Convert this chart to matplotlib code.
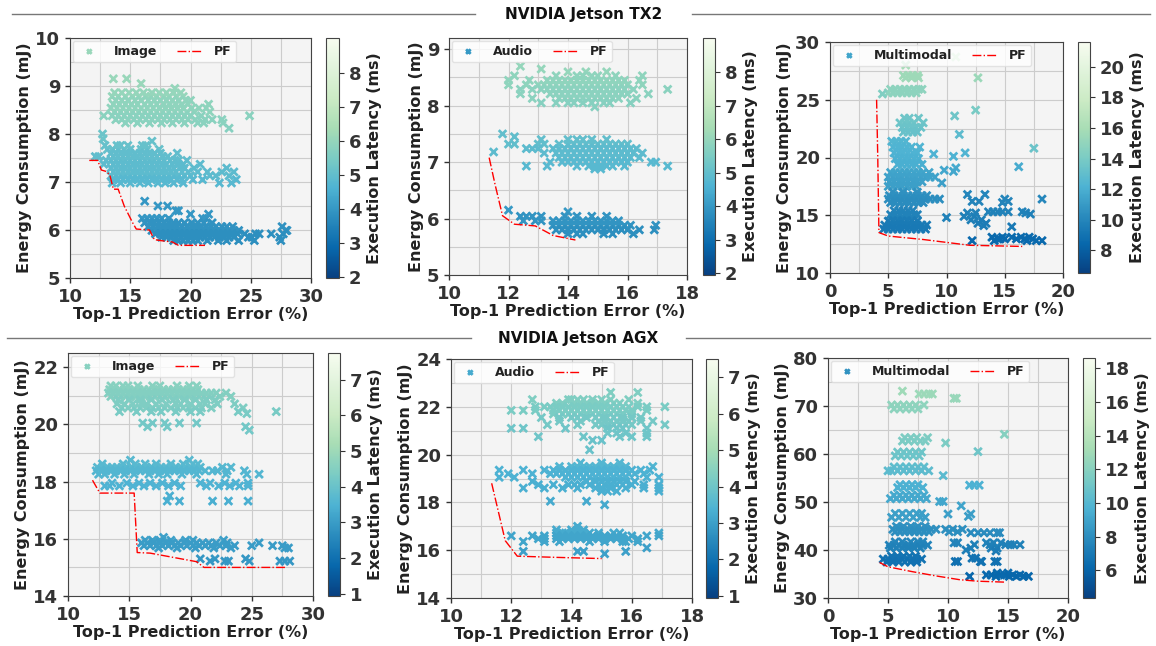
import matplotlib
matplotlib.use("Agg")
import matplotlib.pyplot as plt
from matplotlib.lines import Line2D
from matplotlib.ticker import AutoMinorLocator

plt.rcParams['font.family'] = ['DejaVu Sans']
plt.rcParams['font.weight'] = 'bold'

W, H = 1156, 646

# every row: (energy mJ, latency ms, [prediction error % ...])

# ---------------- NVIDIA Jetson TX2 : Image ----------------
tx2_img_rows = [
    (9.15, 6.1, [13.6, 14.7]), (9.05, 6.1, [15.9]), (8.95, 6.0, [18.7]),
    (8.86, 6.0, [13.7, 14.3, 14.9, 15.5, 16.1, 16.8, 17.4, 18.0, 18.6, 19.2]),
    (8.78, 6.0, [13.5, 14.0, 14.6, 15.2, 15.7, 16.3, 16.7, 17.2, 17.8, 18.2, 18.8, 19.4]),
    (8.70, 5.9, [13.8, 14.3, 14.8, 15.4, 15.9, 16.5, 17.0, 17.5, 18.0, 18.5, 19.0, 19.6, 20.0]),
    (8.62, 5.9, [13.6, 14.1, 14.6, 15.1, 15.6, 16.2, 16.7, 17.2, 17.8, 18.3, 18.8, 19.3, 19.8, 21.5]),
    (8.54, 5.9, [13.4, 13.9, 14.4, 14.9, 15.4, 15.9, 16.4, 16.9, 17.4, 17.9, 18.4, 18.9, 19.4, 20.1, 20.7, 21.3]),
    (8.46, 5.9, [13.7, 14.2, 14.7, 15.2, 15.7, 16.2, 16.7, 17.2, 17.7, 18.2, 18.7, 19.2, 19.7, 20.3, 21.6]),
    (8.38, 5.8, [12.8, 13.5, 14.0, 14.5, 15.0, 15.5, 16.0, 16.5, 17.0, 17.5, 18.0, 18.5, 19.0, 19.5, 20.0, 20.9, 24.9]),
    (8.30, 5.8, [13.8, 14.3, 14.8, 15.3, 15.8, 16.3, 16.8, 17.3, 17.8, 18.3, 18.8, 19.3, 19.8, 20.4, 21.2, 21.8, 22.6]),
    (8.23, 5.8, [14.6, 15.6, 16.6, 17.6, 18.5, 19.5, 20.6, 21.1, 22.7]),
    (8.12, 5.7, [23.2]),
    (8.00, 5.2, [12.7]), (7.90, 5.2, [12.75]), (7.85, 5.1, [16.8]),
    (7.76, 5.1, [12.9, 13.9, 14.2, 14.8, 16.0, 16.3]),
    (7.68, 5.1, [13.1, 13.5, 14.0, 14.5, 15.0, 15.9, 16.4, 17.4]),
    (7.60, 5.0, [13.4, 13.8, 14.2, 14.6, 15.0, 15.4, 15.8, 16.2, 16.6, 17.0, 17.5, 18.9]),
    (7.53, 5.0, [12.1, 12.4, 13.6, 14.0, 14.4, 14.8, 15.2, 15.6, 16.0, 16.4, 16.8, 17.2, 17.7, 18.1]),
    (7.45, 5.0, [13.0, 13.4, 13.8, 14.2, 14.6, 15.0, 15.4, 15.8, 16.2, 16.6, 17.0, 17.4, 17.8, 18.3, 18.7, 19.0, 19.7]),
    (7.37, 4.9, [12.8, 13.6, 14.0, 14.4, 14.8, 15.2, 15.6, 16.0, 16.4, 16.8, 17.2, 17.6, 18.0, 18.5, 19.0, 19.4, 20.8]),
    (7.29, 4.9, [13.4, 13.8, 14.2, 14.6, 15.0, 15.4, 15.8, 16.2, 16.6, 17.0, 17.4, 17.8, 18.2, 18.6, 19.1, 19.5, 20.3, 23.0]),
    (7.21, 4.9, [13.6, 14.0, 14.4, 14.8, 15.2, 15.6, 16.0, 16.4, 16.8, 17.2, 17.6, 18.0, 18.4, 18.8, 19.3, 19.8, 20.6, 21.4, 22.6, 23.6]),
    (7.13, 4.9, [13.4, 13.8, 14.2, 14.6, 15.0, 15.4, 15.8, 16.2, 16.6, 17.0, 17.4, 17.8, 18.2, 18.6, 19.0, 19.5, 20.0, 21.6, 22.1, 23.2]),
    (7.05, 4.8, [13.6, 14.0, 14.4, 14.8, 15.2, 15.6, 16.0, 16.4, 16.8, 17.2, 17.6, 18.0, 18.4, 18.9, 19.3, 20.2, 21.0, 23.8]),
    (6.98, 4.8, [13.5, 14.2, 15.0, 15.8, 16.5, 17.3, 17.9, 18.6, 19.4, 22.4, 23.4]),
    (6.60, 4.0, [16.2]), (6.50, 4.0, [17.3, 18.1]), (6.40, 4.0, [18.8, 19.0]), (6.33, 4.0, [20.0, 21.5]),
    (6.24, 4.0, [16.0, 16.4, 16.8, 17.2, 17.6, 18.2, 21.0, 21.3]),
    (6.15, 3.9, [16.2, 16.6, 17.0, 17.4, 17.8, 18.2, 18.6, 19.0, 19.5, 20.1, 20.6, 21.1, 21.8]),
    (6.07, 3.9, [16.5, 16.9, 17.3, 17.7, 18.1, 18.5, 18.9, 19.3, 19.7, 20.1, 20.5, 20.9, 21.3, 21.7, 22.1, 22.6, 23.0, 23.5, 27.6]),
    (5.99, 3.9, [16.8, 17.2, 17.6, 18.0, 18.4, 18.8, 19.2, 19.6, 20.0, 20.4, 20.8, 21.2, 21.6, 22.0, 22.4, 22.8, 23.2, 23.6, 24.0, 27.9, 28.0]),
    (5.92, 3.8, [17.1, 17.5, 17.9, 18.3, 18.7, 19.1, 19.5, 19.9, 20.3, 20.7, 21.1, 21.5, 21.9, 22.3, 22.7, 23.1, 23.5, 23.9, 24.5, 25.4, 25.7, 26.7, 27.7]),
    (5.85, 3.8, [17.6, 18.0, 18.4, 18.8, 19.2, 19.6, 20.0, 20.4, 20.8, 21.2, 21.6, 22.0, 22.4, 22.8, 23.2, 23.6, 24.8, 25.1, 27.4]),
    (5.78, 3.8, [18.6, 19.0, 19.4, 19.8, 20.2, 20.6, 21.4, 22.3, 23.0, 24.0, 25.3, 27.5]),
]
tx2_img_pf_x = [11.6, 12.3, 12.6, 13.0, 13.3, 13.6, 14.0, 14.5, 15.2, 15.5, 16.6, 17.0, 17.5, 18.5, 19.0, 21.2]
tx2_img_pf_y = [7.45, 7.45, 7.25, 7.22, 7.15, 6.85, 6.85, 6.5, 6.15, 6.02, 6.0, 5.8, 5.78, 5.75, 5.68, 5.68]

# ---------------- NVIDIA Jetson TX2 : Audio ----------------
tx2_aud_rows = [
    (6.15, 4.0, [12.0]), (6.12, 4.0, [14.0]),
    (6.04, 3.9, [12.4, 12.6, 12.8, 13.1, 13.9, 14.3, 14.8, 15.3]),
    (5.96, 3.9, [12.5, 12.9, 13.1, 13.5, 13.7, 13.9, 14.1, 14.3, 14.5, 14.7, 14.9, 15.1, 15.3, 15.5, 15.7]),
    (5.88, 3.9, [13.5, 13.7, 13.9, 14.1, 14.3, 14.5, 14.7, 14.9, 15.1, 15.3, 15.5, 15.7, 15.9, 16.1, 16.95]),
    (5.80, 3.8, [13.6, 13.8, 14.0, 14.2, 14.4, 14.6, 14.8, 15.0, 15.2, 15.4, 15.6, 15.8, 16.0, 16.4, 16.9]),
    (5.73, 3.8, [14.0, 14.3, 14.5, 15.2, 15.5, 16.2]),
    (7.50, 5.0, [11.8]), (7.45, 5.0, [12.2]), (7.32, 5.0, [12.0, 12.2]), (7.18, 4.9, [11.5]),
    (7.40, 5.0, [13.1, 14.0, 14.3, 14.5, 14.8, 15.3]),
    (7.32, 5.0, [13.0, 13.2, 13.7, 14.0, 14.2, 14.4, 14.6, 14.8, 15.0, 15.2, 15.4, 15.6, 15.8, 16.0]),
    (7.24, 4.9, [12.6, 12.8, 13.0, 13.5, 13.7, 13.9, 14.1, 14.3, 14.5, 14.7, 14.9, 15.1, 15.3, 15.5, 15.7, 15.9, 16.1, 16.3]),
    (7.16, 4.9, [13.2, 13.6, 13.8, 14.0, 14.2, 14.4, 14.6, 14.8, 15.0, 15.2, 15.4, 15.6, 15.8, 16.0, 16.2, 16.5]),
    (7.08, 4.9, [13.7, 13.9, 14.1, 14.3, 14.5, 14.7, 14.9, 15.1, 15.3, 15.5, 15.7, 15.9, 16.1, 16.4]),
    (7.00, 4.8, [13.4, 13.8, 14.0, 14.2, 14.4, 14.6, 14.8, 15.0, 15.2, 15.4, 15.6, 15.8, 16.0, 16.8, 16.95]),
    (6.93, 4.8, [12.6, 13.3, 14.3, 14.7, 14.9, 15.1, 15.3, 15.5, 15.9, 17.35]),
    (6.88, 4.8, [14.9, 15.1]),
    (8.70, 6.0, [12.4]), (8.65, 6.0, [13.1]), (8.60, 6.0, [14.0, 14.6, 15.3]),
    (8.53, 5.9, [12.2, 13.6, 14.3, 14.5, 14.8, 15.0, 15.6, 16.5]),
    (8.45, 5.9, [12.0, 12.7, 13.3, 13.5, 13.7, 13.9, 14.1, 14.3, 14.5, 14.7, 14.9, 15.1, 15.3, 15.5, 15.7, 15.9, 16.4]),
    (8.37, 5.9, [12.0, 12.6, 13.0, 13.2, 13.4, 13.6, 13.8, 14.0, 14.2, 14.4, 14.6, 14.8, 15.0, 15.2, 15.4, 15.6, 15.8, 16.0, 16.5]),
    (8.29, 5.8, [12.4, 12.8, 13.1, 13.3, 13.5, 13.7, 13.9, 14.1, 14.3, 14.5, 14.7, 14.9, 15.1, 15.3, 15.5, 15.7, 15.9, 16.2, 17.35]),
    (8.21, 5.8, [12.4, 13.4, 13.6, 13.8, 14.0, 14.2, 14.4, 14.6, 14.8, 15.0, 15.2, 15.4, 15.6, 15.8, 16.0, 16.7]),
    (8.13, 5.8, [12.8, 13.7, 13.9, 14.1, 14.3, 14.5, 14.7, 14.9, 15.1, 15.3, 15.5, 15.7, 16.3]),
    (8.05, 5.7, [13.1, 13.6, 14.0, 14.2, 14.5, 14.8, 15.2, 15.4, 16.1]),
    (7.98, 5.7, [14.9]),
]
tx2_aud_pf_x = [11.35, 11.55, 11.8, 12.2, 12.9, 13.5, 14.25]
tx2_aud_pf_y = [7.08, 6.6, 6.05, 5.9, 5.87, 5.7, 5.62]

# ---------------- NVIDIA Jetson TX2 : Multimodal ----------------
tx2_mm_rows = [
    (18.7, 11.5, [5.2, 5.6, 6.0, 6.4, 6.8, 7.2, 7.6, 8.0, 8.5]),
    (18.3, 11.4, [5.0, 5.4, 5.8, 6.2, 6.6, 7.0, 7.4, 7.8, 8.2, 8.6, 9.0]),
    (17.9, 11.3, [5.1, 5.5, 5.9, 6.3, 6.7, 7.1, 7.5, 7.9]),
    (17.5, 11.2, [5.0, 5.4, 5.8, 6.2, 6.6, 7.0, 7.4]),
    (21.4, 12.4, [5.3, 5.7, 6.1, 6.5]),
    (20.9, 12.3, [5.4, 5.8, 6.2, 6.6, 7.0, 7.7]),
    (20.4, 12.2, [5.5, 5.9, 6.3, 6.7, 7.1, 7.5]),
    (19.9, 12.1, [5.6, 6.0, 6.4, 6.8, 7.2, 7.6]),
    (19.4, 12.0, [5.8, 6.2, 6.6, 7.0, 7.4, 7.9]),
    (23.4, 13.6, [6.4, 6.8, 7.6]),
    (23.0, 13.5, [6.0, 6.4, 6.8, 7.2, 8.0]),
    (22.6, 13.4, [6.2, 6.6, 7.0, 7.4, 7.8]),
    (22.2, 13.3, [6.3, 6.7, 7.1, 7.5]),
    (17.0, 10.6, [5.4, 6.3, 7.5]),
    (16.7, 10.5, [5.1, 5.5, 5.9, 6.3, 6.7, 7.1, 7.5, 7.9, 8.3]),
    (16.4, 10.4, [5.0, 5.4, 5.8, 6.2, 6.6, 7.0, 7.4, 7.8, 8.2, 8.6, 9.0, 9.4]),
    (16.1, 10.3, [5.2, 5.6, 6.0, 6.4, 6.8, 7.2, 7.6, 8.0]),
    (15.4, 9.9, [5.5, 5.9, 6.3, 6.7, 7.1]),
    (15.05, 9.8, [5.2, 5.6, 6.0, 6.4, 6.8, 7.2, 7.5]),
    (14.5, 9.5, [5.0, 5.4, 5.8, 6.2, 6.6, 7.0, 7.5]),
    (14.15, 9.4, [4.7, 5.1, 5.5, 5.9, 6.3, 6.7, 7.1, 7.5, 7.9, 8.3]),
    (13.8, 9.3, [4.6, 5.0, 5.4, 5.8, 6.2, 6.6, 7.0, 7.4, 7.8, 8.2]),
    (25.9, 14.9, [5.2, 5.6, 6.0, 6.4, 6.8, 7.2, 7.6, 7.9]),
    (25.6, 14.8, [5.0, 5.4, 5.8, 6.2, 6.6, 7.0, 7.4]),
    (25.5, 14.3, [4.5]),
    (27.1, 15.6, [6.3, 6.7, 7.1, 7.5]),
    (26.9, 15.5, [6.5, 7.0, 7.6]),
    (28.0, 15.8, [6.5]), (28.7, 17.0, [10.8]), (26.9, 15.4, [12.7]),
    (24.1, 14.0, [12.5]), (23.6, 13.6, [10.7]), (22.0, 12.8, [11.1]), (20.4, 12.3, [11.6]),
    (20.1, 12.2, [10.6]), (20.3, 12.2, [8.9]), (19.1, 11.8, [10.8]), (18.8, 11.6, [10.6]),
    (18.9, 11.6, [9.8]), (17.8, 11.2, [9.6]), (14.8, 9.8, [10.0]), (20.8, 13.4, [17.5]),
    (19.2, 11.8, [16.2]),
    (16.8, 10.0, [11.8, 13.3]), (16.2, 9.9, [12.2, 12.8, 15.3]), (16.4, 10.0, [15.0, 18.2]),
    (16.1, 9.9, [14.8]),
    (15.3, 9.8, [13.6, 14.0, 14.4, 14.8, 15.3, 16.5]), (15.2, 9.8, [11.8, 12.5, 16.8]),
    (15.1, 9.7, [17.2]), (14.9, 9.7, [11.5, 12.4]), (14.6, 9.6, [12.1, 13.0]),
    (14.3, 9.5, [12.7, 13.4]), (14.1, 9.5, [13.2]), (14.0, 9.3, [15.6]),
    (13.1, 8.6, [13.9, 14.8, 15.6, 16.4, 17.1]),
    (12.95, 8.5, [14.4, 14.6, 15.0, 16.0, 16.7, 17.4]),
    (12.8, 8.5, [12.2, 14.1, 16.9, 17.7, 18.2]),
]
tx2_mm_pf_x = [4.0, 4.1, 4.2, 5.0, 8.0, 12.0, 16.5]
tx2_mm_pf_y = [25.0, 20.0, 13.5, 13.2, 12.9, 12.4, 12.3]

# ---------------- NVIDIA Jetson AGX : Image ----------------
agx_img_rows = [
    (21.35, 4.6, [13.5, 13.9, 14.5, 14.9, 15.7, 16.9, 17.5, 18.9, 19.9, 20.5]),
    (21.22, 4.6, [13.4, 13.8, 14.2, 14.6, 15.0, 15.4, 15.8, 16.2, 16.6, 17.0, 17.4, 17.8, 18.2, 18.6, 19.0, 19.4, 19.8, 20.2, 20.6]),
    (21.10, 4.5, [13.3, 13.7, 14.1, 14.5, 14.9, 15.3, 15.7, 16.1, 16.5, 16.9, 17.3, 17.7, 18.1, 18.5, 18.9, 19.3, 19.7, 20.1, 20.5, 20.9, 21.3, 21.7, 22.1, 22.9]),
    (20.98, 4.5, [13.5, 13.9, 14.3, 14.7, 15.1, 15.5, 15.9, 16.3, 16.7, 17.1, 17.5, 17.9, 18.3, 18.7, 19.1, 19.5, 19.9, 20.3, 20.7, 21.1, 21.5, 22.4, 23.3]),
    (20.86, 4.4, [14.1, 15.0, 15.9, 16.8, 17.7, 18.6, 19.5, 20.4, 21.3, 22.0]),
    (20.72, 4.4, [14.0, 14.6, 15.3, 16.0, 16.4, 17.2, 18.0, 18.8, 19.2, 20.0, 20.8, 21.2, 22.2, 23.6]),
    (20.58, 4.4, [14.4, 14.9, 15.4, 15.9, 16.4, 16.9, 17.4, 17.9, 18.4, 18.9, 19.4, 19.9, 20.4, 20.9, 21.7, 24.3]),
    (20.45, 4.3, [14.2, 15.6, 16.8, 17.6, 18.8, 20.0, 20.8, 23.9, 27.0]),
    (20.38, 4.3, [24.6]),
    (20.05, 4.2, [16.1, 16.9, 17.9, 19.1, 20.5]),
    (19.92, 4.2, [16.5, 18.1, 24.5]),
    (19.80, 4.2, [24.8]),
    (18.75, 3.7, [15.1, 19.9]),
    (18.62, 3.7, [12.8, 14.5, 15.5, 16.3, 17.2, 18.4, 19.4, 20.2, 20.6]),
    (18.50, 3.7, [12.4, 12.8, 13.2, 13.6, 14.0, 14.4, 14.8, 15.2, 15.6, 16.0, 16.4, 16.8, 17.2, 17.6, 18.0, 18.4, 18.8, 19.2, 19.6, 20.0, 20.4, 20.8, 22.6, 23.3]),
    (18.38, 3.6, [12.3, 12.7, 13.1, 13.5, 13.9, 14.3, 14.7, 15.1, 15.5, 15.9, 16.3, 16.7, 17.1, 17.5, 17.9, 18.3, 18.7, 19.1, 19.5, 19.9, 20.3, 20.7, 21.2, 21.8, 22.2, 23.0, 24.4]),
    (18.26, 3.6, [12.5, 13.0, 13.8, 14.6, 15.4, 16.6, 17.4, 18.1, 19.3, 20.5, 22.9, 24.6, 25.6]),
    (17.95, 3.5, [13.6, 14.8, 15.8, 16.7, 17.7, 18.7, 20.8, 21.6, 22.8, 23.7, 24.7]),
    (17.85, 3.5, [13.0, 13.4, 14.2, 15.3, 16.2, 17.2, 18.2, 19.2, 21.3, 22.3, 23.2, 24.0, 24.7]),
    (17.50, 3.4, [18.3]),
    (17.32, 3.4, [18.1, 19.1, 21.8, 23.1, 24.7]),
    (16.05, 3.1, [17.8]),
    (15.95, 3.1, [16.3, 16.9, 17.5, 18.4, 19.6, 20.2, 22.7]),
    (15.86, 3.0, [16.0, 16.5, 17.0, 17.5, 18.0, 18.5, 19.0, 19.5, 20.0, 20.5, 21.0, 21.5, 22.1, 23.0, 25.6]),
    (15.76, 3.0, [16.2, 16.7, 17.2, 17.7, 18.2, 18.7, 19.2, 19.7, 20.2, 20.7, 21.2, 21.7, 22.4, 22.9, 23.6, 25.0, 26.7, 27.5]),
    (15.68, 3.0, [17.4, 18.9, 20.4, 21.9, 23.3, 27.7, 28.0]),
    (15.30, 2.9, [20.8, 22.0, 24.5]),
    (15.22, 2.9, [21.6, 22.8, 23.1, 24.8, 27.3, 27.7, 28.1]),
]
agx_img_pf_x = [12.0, 12.6, 15.4, 15.65, 16.7, 20.5, 21.1, 27.8]
agx_img_pf_y = [18.05, 17.6, 17.6, 15.52, 15.5, 15.2, 15.0, 15.0]

# ---------------- NVIDIA Jetson AGX : Audio ----------------
agx_aud_rows = [
    (17.00, 3.2, [14.2]),
    (16.85, 3.2, [13.5, 14.0, 14.2, 14.4]),
    (16.72, 3.2, [13.5, 13.7, 13.8, 14.0, 14.2, 14.4, 14.6, 14.9, 15.4, 15.6, 16.9]),
    (16.60, 3.1, [12.0, 12.7, 13.1, 13.5, 13.7, 13.9, 14.1, 14.3, 14.5, 14.7, 14.9, 15.1, 15.3, 15.5, 15.7, 16.0, 16.5, 16.9]),
    (16.48, 3.1, [12.9, 13.1, 13.5, 13.7, 13.9, 14.1, 14.3, 14.5, 14.7, 14.9, 15.1, 15.3, 15.5, 15.7, 15.9, 16.2]),
    (16.36, 3.1, [12.4, 13.1, 13.6, 14.6, 15.1, 15.7, 15.8, 16.2]),
    (16.10, 3.0, [16.5]),
    (15.95, 3.0, [12.4, 14.2, 14.4, 15.8]),
    (15.85, 3.0, [15.1]),
    (19.65, 3.5, [14.3, 15.0, 15.6]),
    (19.50, 3.5, [13.6, 14.0, 14.2, 14.4, 14.6, 14.8, 15.0, 15.2, 15.4, 15.6, 15.8, 16.7]),
    (19.35, 3.4, [11.6, 12.4, 13.1, 13.4, 13.6, 13.8, 14.0, 14.2, 14.4, 14.6, 14.8, 15.0, 15.2, 15.4, 15.6, 15.8, 16.0, 16.3, 16.6]),
    (19.20, 3.4, [11.9, 12.7, 13.3, 13.5, 13.7, 13.9, 14.1, 14.3, 14.5, 14.7, 14.9, 15.1, 15.3, 15.5, 15.7, 15.9, 16.1, 16.4]),
    (19.05, 3.4, [11.6, 12.1, 13.8, 14.0, 14.2, 14.4, 14.6, 14.8, 15.0, 15.2, 15.4, 15.6, 15.8, 16.5, 16.9]),
    (18.88, 3.3, [12.7, 14.5, 14.8, 15.0, 15.2, 15.4, 15.6, 15.8, 16.1]),
    (18.74, 3.3, [12.9, 13.4, 13.9, 14.1, 14.3, 14.6, 14.9, 15.1, 15.3, 15.5, 15.7, 16.0, 16.4, 16.9]),
    (18.60, 3.3, [12.4, 13.1, 13.7, 14.2, 14.8, 15.0, 15.3, 15.8, 16.4, 16.9]),
    (18.47, 3.3, [15.0, 15.2, 15.5, 16.9]),
    (18.05, 3.2, [13.3, 14.5]), (17.90, 3.2, [15.1]),
    (22.60, 4.3, [15.3, 16.2]),
    (22.30, 4.3, [12.7, 13.9, 14.0, 14.2, 14.4, 14.7, 15.0, 15.3, 15.9]),
    (22.15, 4.3, [13.5, 13.7, 14.1, 14.3, 14.5, 14.7, 14.9, 15.1, 15.4, 15.6, 16.2]),
    (22.00, 4.2, [12.8, 13.1, 13.3, 13.5, 13.7, 13.9, 14.1, 14.3, 14.5, 14.7, 14.9, 15.1, 15.3, 15.5, 15.7, 15.9, 16.2, 16.5, 17.1]),
    (21.85, 4.2, [12.0, 12.4, 12.8, 13.4, 13.6, 13.8, 14.0, 14.2, 14.4, 14.6, 14.8, 15.0, 15.2, 15.4, 15.6, 15.8, 16.0, 16.5]),
    (21.70, 4.2, [13.4, 13.7, 13.9, 14.1, 14.3, 14.5, 14.7, 14.9, 15.1, 15.3, 15.5, 15.7, 16.0]),
    (21.55, 4.1, [13.0, 13.6, 14.0, 14.2, 14.5, 14.8, 15.1, 15.4, 15.7, 16.0, 16.3]),
    (21.40, 4.1, [13.6, 14.3, 14.9, 15.1, 15.3, 15.5, 15.7, 15.9, 16.3, 16.7]),
    (21.25, 4.1, [13.2, 14.2, 14.8, 15.0, 15.2, 15.4, 15.6, 15.8, 16.0, 17.1]),
    (21.10, 4.0, [12.0, 12.4, 13.8, 15.2, 15.5, 15.7, 16.5]),
    (20.90, 4.0, [15.2, 15.5, 15.8, 16.5]),
    (20.75, 4.0, [12.9, 14.4, 15.6, 16.0, 16.5]),
    (20.60, 3.9, [14.7, 15.0]),
    (20.20, 3.9, [14.6]),
]
agx_aud_pf_x = [11.35, 11.8, 12.2, 13.5, 15.0]
agx_aud_pf_y = [18.8, 16.4, 15.75, 15.7, 15.65]

# ---------------- NVIDIA Jetson AGX : Multimodal ----------------
agx_mm_rows = [
    (44.9, 8.2, [5.7, 6.3, 6.9, 7.5, 8.1]),
    (44.3, 8.1, [5.4, 5.8, 6.2, 6.6, 7.0, 7.4, 7.8, 8.2, 8.6, 9.0, 9.8, 10.4, 11.2]),
    (43.8, 8.0, [5.6, 6.0, 6.4, 6.8, 7.2, 7.6, 8.0, 8.4, 10.1, 10.8]),
    (41.7, 7.6, [5.6, 6.2, 6.9, 7.5, 7.9]),
    (41.0, 7.5, [5.1, 5.5, 5.9, 6.3, 6.7, 7.1, 7.5, 7.9, 8.3]),
    (40.4, 7.4, [5.2, 5.7, 6.2, 6.7, 7.2, 7.7]),
    (38.7, 6.8, [5.3, 5.8, 6.3, 6.8, 7.3]),
    (38.1, 6.7, [4.6, 5.0, 5.4, 5.8, 6.2, 6.6, 7.0, 7.4, 7.8]),
    (37.5, 6.6, [4.9, 5.4, 5.9, 6.4, 6.9, 7.4]),
    (47.6, 8.9, [5.6, 6.2, 6.8, 7.4, 7.8]),
    (46.8, 8.8, [5.3, 5.9, 6.5, 7.1, 7.7, 8.1]),
    (51.4, 9.3, [5.5, 6.0, 6.5, 7.0, 7.5, 8.0]),
    (50.7, 9.2, [5.2, 5.7, 6.2, 6.7, 7.2, 7.7, 8.2]),
    (53.6, 9.7, [6.0, 6.5, 7.0, 7.5]),
    (53.0, 9.6, [5.8, 6.3, 6.8, 7.3, 7.9]),
    (57.3, 10.4, [5.5, 6.0, 6.5, 7.0, 7.5, 8.0]),
    (56.5, 10.3, [5.0, 5.3, 5.8, 6.3, 6.8, 7.3, 7.8, 8.4]),
    (60.4, 11.0, [5.8, 6.3, 6.8, 7.3, 7.8]),
    (59.6, 10.9, [5.6, 6.1, 6.6, 7.1, 7.6]),
    (63.4, 11.6, [6.4, 6.9, 7.4, 8.3]),
    (62.7, 11.5, [6.2, 6.7, 7.2, 7.7, 8.1]),
    (70.2, 12.3, [5.3, 5.8, 6.3, 6.8, 7.3, 8.0]),
    (69.4, 12.2, [5.5, 6.0, 6.5, 7.0, 7.5]),
    (72.5, 12.8, [7.6, 8.0, 8.4, 8.7]), (73.1, 12.9, [6.2]), (71.6, 12.6, [10.5, 10.7]),
    (64.1, 11.9, [14.7]), (62.3, 11.5, [9.8]), (60.5, 11.0, [12.5]), (55.5, 10.2, [9.6]),
    (53.5, 9.7, [11.8, 12.2, 12.6]), (50.1, 9.1, [9.3, 9.6]), (49.2, 9.0, [11.1]),
    (47.5, 8.8, [10.0, 11.9]), (47.0, 8.7, [11.7]),
    (43.6, 7.9, [11.9, 12.5, 13.0, 13.5, 14.1, 14.3]),
    (41.5, 7.5, [10.5, 10.8, 13.2, 13.8, 14.4]),
    (41.1, 7.4, [12.2, 13.5, 14.8, 15.2, 15.5, 16.0]),
    (40.4, 7.3, [11.9, 13.6, 14.1]), (40.0, 7.2, [11.5]), (39.8, 7.1, [14.0]),
    (38.3, 6.7, [12.0, 12.3]), (37.6, 6.6, [10.6, 10.8, 12.7, 12.8, 13.9, 14.1]),
    (35.2, 6.3, [14.1, 15.0]),
    (34.8, 6.2, [13.2, 13.6, 14.4, 14.7, 15.4, 16.0]),
    (34.5, 6.1, [11.8, 14.0, 15.1, 15.7, 16.3, 16.7]),
]
agx_mm_pf_x = [4.3, 5.0, 7.0, 9.0, 11.0, 12.5, 14.8]
agx_mm_pf_y = [37.4, 36.5, 35.5, 34.6, 33.8, 33.5, 33.3]

TXT = '#222222'


def px_rect(l, r, t, b):
    return [l / W, 1 - b / H, (r - l) / W, (b - t) / H]


def flatten(rows):
    xs, ys, cs = [], [], []
    for y, lat, row in rows:
        for x in row:
            xs.append(x)
            ys.append(y)
            cs.append(lat)
    return xs, ys, cs


def panel(fig, rect, cbrect, rows, pf_x, pf_y, label, xlim, ylim, xticks, yticks, vmin, vmax, cticks):
    ax = fig.add_axes(px_rect(*rect))
    ax.set_facecolor('#f4f4f4')
    xs, ys, cs = flatten(rows)
    sc = ax.scatter(xs, ys, c=cs, cmap='GnBu_r', vmin=vmin, vmax=vmax,
                    marker='x', s=30, linewidths=2.0, label=label, zorder=3)
    ax.plot(pf_x, pf_y, color='red', linestyle='-.', linewidth=1.0, label='PF', zorder=4)
    ax.set_xlim(*xlim)
    ax.set_ylim(*ylim)
    ax.set_xticks(xticks)
    ax.set_yticks(yticks)
    ax.xaxis.set_minor_locator(AutoMinorLocator(2))
    ax.yaxis.set_minor_locator(AutoMinorLocator(2))
    ax.grid(which='both', color='#cccccc', linewidth=0.8, zorder=0)
    ax.set_axisbelow(True)
    ax.tick_params(which='major', labelsize=13, colors='#333333', length=3.5, width=1)
    ax.tick_params(which='minor', length=0)
    for t in ax.get_xticklabels() + ax.get_yticklabels():
        t.set_fontweight('bold')
    for s in ax.spines.values():
        s.set_color('#444444')
    ax.set_xlabel('Top-1 Prediction Error (%)', fontsize=11.5, fontweight='bold', color=TXT, labelpad=1)
    ax.set_ylabel('Energy Consumption (mJ)', fontsize=11.5, fontweight='bold', color=TXT, labelpad=2)
    leg = ax.legend(loc='upper left', ncol=2, prop={'weight': 'bold', 'size': 9},
                    scatterpoints=1, markerscale=0.6, handlelength=2.0, columnspacing=1.6,
                    borderpad=0.35, handletextpad=0.95, borderaxespad=0.2,
                    framealpha=0.8, edgecolor='#dddddd')
    for t in leg.get_texts():
        t.set_color(TXT)
    cax = fig.add_axes(px_rect(cbrect[0], cbrect[1], rect[2], rect[3]))
    cb = fig.colorbar(sc, cax=cax, ticks=cticks)
    cb.outline.set_edgecolor('#444444')
    cax.tick_params(labelsize=13, colors='#333333', length=3.5)
    for t in cax.get_yticklabels():
        t.set_fontweight('bold')
    cb.set_label('Execution Latency (ms)', fontsize=11.5, fontweight='bold', color=TXT, labelpad=4)
    return ax


fig = plt.figure(figsize=(W / 100, H / 100), dpi=100)
fig.patch.set_facecolor('white')

panel(fig, (70, 311, 38, 278), (326, 339), tx2_img_rows,
      tx2_img_pf_x, tx2_img_pf_y, 'Image', (10, 30), (5, 10), range(10, 31, 5), range(5, 11),
      1.97, 9.03, range(2, 9))
panel(fig, (449, 687, 38, 275), (703, 715), tx2_aud_rows,
      tx2_aud_pf_x, tx2_aud_pf_y, 'Audio', (10, 18), (5, 9.2), range(10, 19, 2), range(5, 10),
      1.95, 9.03, range(2, 9))
panel(fig, (830, 1063, 42, 273), (1078, 1090), tx2_mm_rows,
      tx2_mm_pf_x, tx2_mm_pf_y, 'Multimodal', (0, 20), (10, 30), range(0, 21, 5), range(10, 31, 5),
      6.52, 21.63, range(8, 21, 2))
panel(fig, (68, 313, 353, 596), (328, 340), agx_img_rows,
      agx_img_pf_x, agx_img_pf_y, 'Image', (10, 30), (14, 22.5), range(10, 31, 5), range(14, 23, 2),
      0.94, 7.75, range(1, 8))
panel(fig, (451, 692, 359, 598), (706, 718), agx_aud_rows,
      agx_aud_pf_x, agx_aud_pf_y, 'Audio', (10, 18), (14, 24), range(10, 19, 2), range(14, 25, 2),
      0.94, 7.5, range(1, 8))
panel(fig, (828, 1068, 358, 598), (1083, 1095), agx_mm_rows,
      agx_mm_pf_x, agx_mm_pf_y, 'Multimodal', (0, 20), (30, 80), range(0, 21, 5), range(30, 81, 10),
      4.36, 18.6, range(6, 19, 2))

# section headers with rules on either side
for title, ypx, l_end, r_start, x0 in [('NVIDIA Jetson TX2', 14, 475, 692, 12),
                                       ('NVIDIA Jetson AGX', 338, 471, 686, 7)]:
    yf = 1 - ypx / H
    fig.add_artist(Line2D([x0 / W, l_end / W], [yf, yf], color='#777777', linewidth=1.0))
    fig.add_artist(Line2D([r_start / W, 1150 / W], [yf, yf], color='#777777', linewidth=1.0))
    fig.text((l_end + r_start) / 2 / W, yf, title, ha='center', va='center',
             fontsize=11, fontweight='bold', color='#111111')

fig.savefig('out.png', dpi=100)
